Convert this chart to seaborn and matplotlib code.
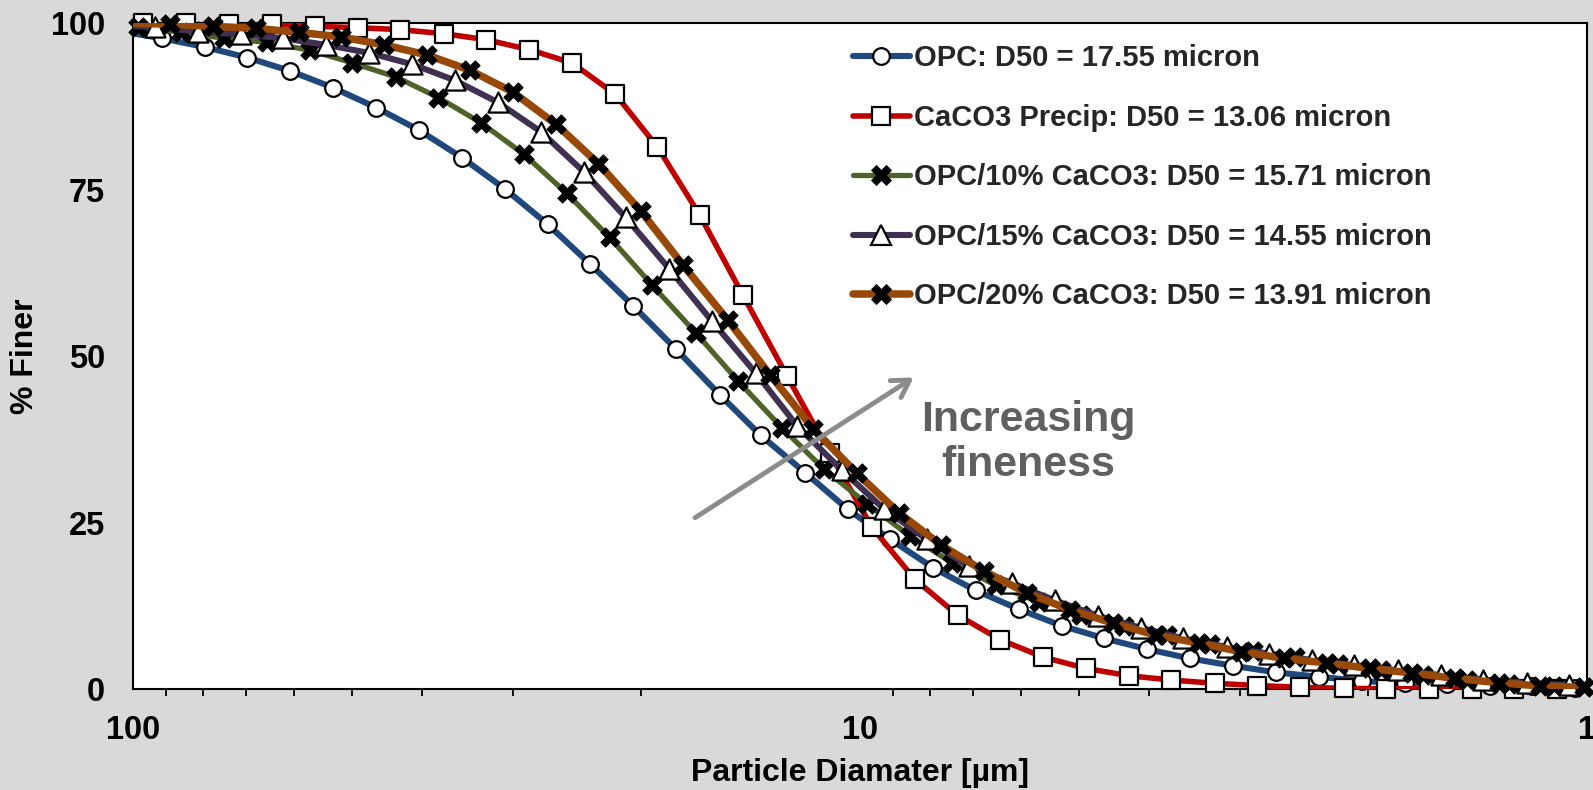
import matplotlib
matplotlib.use("Agg")
import matplotlib.pyplot as plt
from matplotlib.lines import Line2D
from matplotlib.ticker import FixedLocator, FixedFormatter, LogLocator, NullFormatter
import seaborn as sns

# particle diameter (micron) and cumulative % finer
opc_d = [104.6, 91.3, 79.7, 69.6, 60.8, 53.1, 46.3, 40.4, 35.3, 30.8, 26.9,
         23.5, 20.5, 17.9, 15.6, 13.7, 11.9, 10.4, 9.09, 7.93, 6.93, 6.05,
         5.28, 4.61, 4.03, 3.52, 3.07, 2.68, 2.34, 2.04, 1.78, 1.56, 1.36,
         1.19, 1.04]
opc_pct = [98.8, 97.7, 96.4, 94.8, 92.8, 90.3, 87.3, 83.9, 79.8, 75.1, 69.8,
           63.8, 57.5, 51.0, 44.2, 38.1, 32.5, 27.0, 22.5, 18.2, 14.8, 12.0,
           9.5, 7.6, 6.0, 4.6, 3.5, 2.5, 1.85, 1.2, 0.9, 0.7, 0.5, 0.4, 0.2]

caco3_d = [110.9, 96.8, 84.5, 73.8, 64.4, 56.2, 49.1, 42.9, 37.4, 32.7, 28.5,
           24.9, 21.7, 19.0, 16.6, 14.5, 12.6, 11.0, 9.63, 8.41, 7.34, 6.41,
           5.60, 4.89, 4.27, 3.73, 3.25, 2.84, 2.48, 2.16, 1.89, 1.65, 1.44,
           1.26, 1.10]
caco3_pct = [100.0, 100.0, 100.0, 99.9, 99.8, 99.5, 99.3, 99.0, 98.4, 97.5, 96.0,
             94.0, 89.3, 81.4, 71.1, 59.2, 47.0, 35.4, 24.3, 16.5, 11.1, 7.4,
             4.8, 3.1, 2.0, 1.35, 0.86, 0.53, 0.26, 0.1, 0.05, 0.02, 0.0, 0.0, 0.0]

p10_d = [112.6, 98.3, 85.8, 74.9, 65.4, 57.1, 49.9, 43.5, 38.0, 33.2, 29.0,
         25.3, 22.1, 19.3, 16.8, 14.7, 12.8, 11.2, 9.78, 8.54, 7.46, 6.51,
         5.68, 4.96, 4.33, 3.78, 3.30, 2.88, 2.52, 2.20, 1.92, 1.68, 1.46,
         1.28, 1.11]
p10_pct = [99.8, 99.4, 98.6, 97.7, 97.1, 95.9, 94.0, 91.9, 88.8, 85.0, 80.3,
           74.4, 67.8, 60.6, 53.4, 46.2, 39.2, 33.0, 27.8, 23.0, 18.9, 15.6,
           13.1, 11.1, 9.5, 8.1, 6.8, 5.7, 4.8, 3.75, 2.85, 2.1, 1.35, 0.75, 0.4]

p15_d = [106.8, 93.3, 81.4, 71.1, 62.1, 54.2, 47.3, 41.3, 36.1, 31.5, 27.5,
         24.0, 21.0, 18.3, 16.0, 13.9, 12.2, 10.6, 9.28, 8.10, 7.08, 6.18,
         5.39, 4.71, 4.11, 3.59, 3.13, 2.74, 2.39, 2.09, 1.82, 1.59, 1.39,
         1.21, 1.06]
p15_pct = [99.7, 99.4, 98.7, 98.3, 97.7, 96.7, 95.5, 93.8, 91.4, 88.1, 83.7,
           77.7, 70.8, 63.1, 55.3, 47.4, 39.5, 32.9, 27.1, 22.5, 18.4, 15.9,
           13.3, 11.0, 9.2, 7.6, 6.3, 5.3, 4.3, 3.6, 2.8, 2.1, 1.4, 0.9, 0.6]

p20_d = [101.9, 88.9, 77.7, 67.8, 59.2, 51.7, 45.1, 39.4, 34.4, 30.0, 26.2,
         22.9, 20.0, 17.5, 15.2, 13.3, 11.6, 10.1, 8.85, 7.73, 6.75, 5.89,
         5.14, 4.49, 3.92, 3.42, 2.99, 2.61, 2.28, 1.99, 1.74, 1.52, 1.32,
         1.16, 1.01]
p20_pct = [100.0, 99.8, 99.5, 99.2, 98.6, 97.9, 96.7, 95.2, 92.9, 89.6, 84.8,
           78.9, 71.7, 63.6, 55.4, 47.2, 39.1, 32.4, 26.5, 21.6, 17.7, 14.4,
           11.9, 9.9, 8.1, 6.9, 5.6, 4.6, 3.9, 3.1, 2.4, 1.6, 0.95, 0.45, 0.25]

labels = ["OPC: D50 = 17.55 micron",
          "CaCO3 Precip: D50 = 13.06 micron",
          "OPC/10% CaCO3: D50 = 15.71 micron",
          "OPC/15% CaCO3: D50 = 14.55 micron",
          "OPC/20% CaCO3: D50 = 13.91 micron"]
x_ticks = [100, 10, 1]
y_ticks = [0, 25, 50, 75, 100]

# style per series: colour, line width, marker, marker size, face colour
series = [
    (opc_d, opc_pct, "#1F497D", 4.4, "o", 12.0, "white"),
    (caco3_d, caco3_pct, "#C00000", 4.0, "s", 12.5, "white"),
    (p10_d, p10_pct, "#4F6228", 3.8, "X", 14.0, "black"),
    (p15_d, p15_pct, "#403152", 4.4, "^", 14.5, "white"),
    (p20_d, p20_pct, "#984807", 5.4, "X", 14.0, "black"),
]

sns.set_theme(style="white")
plt.rcParams["font.family"] = ["Liberation Sans", "DejaVu Sans"]
plt.rcParams["font.weight"] = "bold"
plt.rcParams["axes.labelweight"] = "bold"

fig = plt.figure(figsize=(15.93, 7.90), dpi=100, facecolor="#D9D9D9")
ax = fig.add_axes([0.0835, 0.1278, 0.9127, 0.8431])
ax.set_facecolor("white")

handles = []
for i, (d, pct, color, lw, mk, ms, fc) in enumerate(series):
    sns.lineplot(x=d, y=pct, ax=ax, color=color, lw=lw, sort=False,
                 estimator=None, zorder=2 + 2 * i)
    xs = [v for v in d if 1 <= v <= 100]
    ys = [p for v, p in zip(d, pct) if 1 <= v <= 100]
    ew = 1.6 if fc == "white" else 0.6
    sns.scatterplot(x=xs, y=ys, ax=ax, marker=mk, s=ms ** 2, color=fc,
                    edgecolor="black", linewidth=ew,
                    clip_on=False, zorder=3 + 2 * i, legend=False)
    handles.append(Line2D([], [], color=color, lw=lw, marker=mk, markersize=ms,
                          markerfacecolor=fc, markeredgecolor="black",
                          markeredgewidth=ew))

ax.set_xscale("log")
ax.set_xlim(100, 1)
ax.set_ylim(0, 100)
ax.xaxis.set_major_locator(FixedLocator(x_ticks))
ax.xaxis.set_major_formatter(FixedFormatter([str(t) for t in x_ticks]))
ax.xaxis.set_minor_locator(LogLocator(base=10, subs=range(2, 10)))
ax.xaxis.set_minor_formatter(NullFormatter())
ax.set_yticks(y_ticks)

ax.tick_params(axis="both", which="major", direction="out", length=7, width=1.5,
               labelsize=23.5, color="black", labelcolor="black")
ax.tick_params(axis="y", which="major", pad=13)
ax.tick_params(axis="x", which="major", pad=12)
ax.tick_params(axis="x", which="minor", direction="out", length=5, width=1.3,
               color="black", bottom=True)
for s in ax.spines.values():
    s.set_visible(True)
    s.set_color("black")
    s.set_linewidth(1.5)

ax.set_xlabel("Particle Diamater [µm]", fontsize=23, fontweight="bold", color="black")
ax.set_ylabel("% Finer", fontsize=23, fontweight="bold", color="black")
ax.xaxis.set_label_coords(0.5, -0.126)
ax.xaxis.label.set_va("center")
ax.yaxis.set_label_coords(-0.0743, 0.5)
ax.yaxis.label.set_va("center")

ax.legend(handles, labels, loc="upper left", bbox_to_anchor=(0.495, 0.968),
          frameon=False, fontsize=21, handlelength=1.95, handletextpad=0.15,
          labelspacing=1.08, borderpad=0, borderaxespad=0)

ax.annotate("", xy=(0.5385, 0.47), xytext=(0.385, 0.255), xycoords="axes fraction",
            arrowprops=dict(arrowstyle="->,head_length=1.0,head_width=0.6",
                            color="#8C8C8C", lw=3.5), zorder=20)
ax.text(0.6155, 0.37, "Increasing\nfineness", transform=ax.transAxes,
        ha="center", va="center", fontsize=31, fontweight="bold",
        color="#606060", linespacing=1.15, zorder=20)

fig.savefig("out.png", dpi=100, facecolor=fig.get_facecolor())
